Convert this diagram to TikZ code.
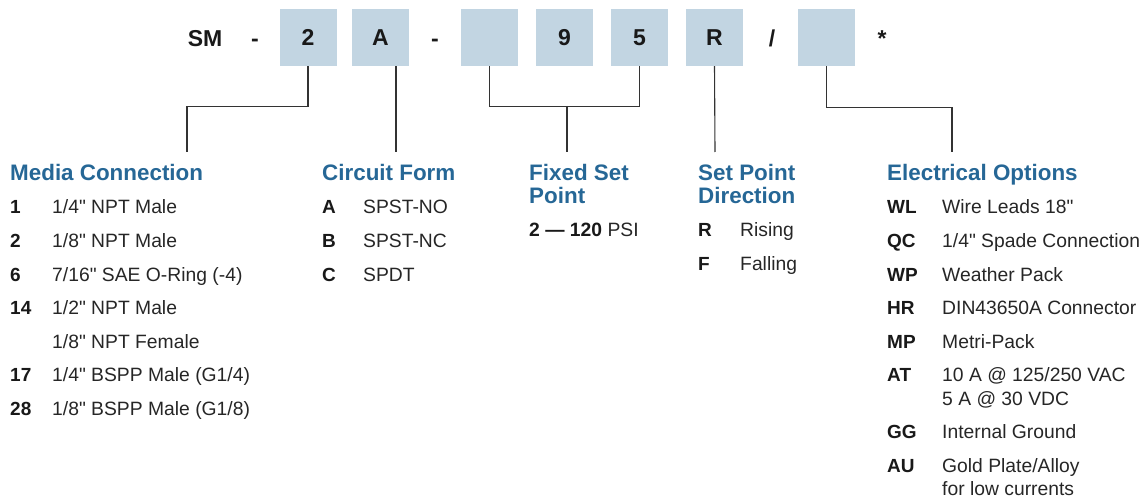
\documentclass[tikz,border=0pt]{standalone}
\usepackage{fontspec}
\setmainfont{Liberation Sans}[Ligatures=TeXOff]
\usetikzlibrary{positioning,calc}
\definecolor{boxblue}{RGB}{194,213,226}
\definecolor{headblue}{RGB}{38,103,150}
\definecolor{ink}{RGB}{25,25,25}
\begin{document}
\begin{tikzpicture}[x=1pt,y=-1pt,every node/.style={inner sep=0pt,text=ink},
 seg/.style={fill=boxblue,minimum width=57pt,minimum height=57pt,font=\fontsize{23}{26}\selectfont\bfseries},
 code/.style={anchor=base,font=\fontsize{23}{26}\selectfont\bfseries},
 head/.style={anchor=base west,font=\fontsize{22.4}{24}\selectfont\bfseries,text=headblue},
 key/.style={anchor=base west,font=\fontsize{19}{22}\selectfont\bfseries},
 item/.style={anchor=base west,font=\fontsize{19.3}{22}\selectfont,text=black!85},
 lead/.style={draw=black!80,line width=1.1pt}]
\useasboundingbox (0,0) rectangle (1147,497);
% part number
\node[code] (sm) at (205,47) {SM};
\node[code] (d1) at (255,47) {-};
\node[seg] (b2) at (308,37.5) {2};
\node[seg] (bA) at (380.5,37.5) {A};
\node[code] (d2) at (435,47) {-};
\node[seg] (bX) at (489.5,37.5) {};
\node[seg] (b9) at (564.5,37.5) {9};
\node[seg] (b5) at (639.5,37.5) {5};
\node[seg] (bR) at (714.5,37.5) {R};
\node[code] (sl) at (772,47) {/};
\node[seg] (bY) at (826.5,37.5) {};
\node[code] (st) at (882,47) {*};
% leads
\coordinate (mc) at (187,152);\coordinate (cf) at (396,152);\coordinate (fj) at (567,106);
\coordinate (fs) at (567,152);\coordinate (sd) at (715,152);\coordinate (eo) at (952,152);
\draw[lead] (b2.south) -- ++(0,40) -| (mc);
\draw[lead] (cf |- bA.south) -- (cf);
\draw[lead] (bX.south) -- ++(0,40) -| (b5.south);\draw[lead] (fj) -- (fs);
\draw[lead] (bR.south) -- (sd);
\draw[lead] (bY.south) -- ++(0,41) -| (eo);
% media connection
\node[head] (mch) at (10,180) {Media Connection};
\node[key] (m1) at (10,213) {1};\node[item] at (52,213) {1/4" NPT Male};
\node[key] (m2) at (10,247) {2};\node[item] at (52,247) {1/8" NPT Male};
\node[key] (m6) at (10,281) {6};\node[item] at (52,281) {7/16" SAE O-Ring (-4)};
\node[key] (m14) at (10,314) {14};\node[item] at (52,314) {1/2" NPT Male};
\node[item] (m14b) at (52,348) {1/8" NPT Female};
\node[key] (m17) at (10,381) {17};\node[item] at (52,381) {1/4" BSPP Male (G1/4)};
\node[key] (m28) at (10,415) {28};\node[item] at (52,415) {1/8" BSPP Male (G1/8)};
% circuit form
\node[head] (cfh) at (322,180) {Circuit Form};
\node[key] (cA) at (322,213) {A};\node[item] at (363,213) {SPST-NO};
\node[key] (cB) at (322,247) {B};\node[item] at (363,247) {SPST-NC};
\node[key] (cC) at (322,281) {C};\node[item] at (363,281) {SPDT};
% fixed set point
\node[head] (fsh) at (529,180) {Fixed Set};
\node[head] (fsh2) at (529,203) {Point};
\node[item] (fr) at (529,236) {{\bfseries\color{ink}2 — 120} PSI};
% set point direction
\node[head] (sdh) at (698,180) {Set Point};
\node[head] (sdh2) at (698,203) {Direction};
\node[key] (sR) at (698,236) {R};\node[item] at (740,236) {Rising};
\node[key] (sF) at (698,270) {F};\node[item] at (740,270) {Falling};
% electrical options
\node[head] (eoh) at (887,180) {Electrical Options};
\node[key] (eWL) at (887,213) {WL};\node[item] at (942,213) {Wire Leads 18"};
\node[key] (eQC) at (887,247) {QC};\node[item] at (942,247) {1/4" Spade Connection};
\node[key] (eWP) at (887,281) {WP};\node[item] at (942,281) {Weather Pack};
\node[key] (eHR) at (887,314) {HR};\node[item] at (942,314) {DIN43650A Connector};
\node[key] (eMP) at (887,348) {MP};\node[item] at (942,348) {Metri-Pack};
\node[key] (eAT) at (887,381) {AT};\node[item] at (942,381) {10 A @ 125/250 VAC};
\node[item] (eAT2) at (942,405) {5 A @ 30 VDC};
\node[key] (eGG) at (887,438) {GG};\node[item] at (942,438) {Internal Ground};
\node[key] (eAU) at (887,472) {AU};\node[item] at (942,472) {Gold Plate/Alloy};
\node[item] (eAU2) at (942,495) {for low currents};
\end{tikzpicture}
\end{document}
